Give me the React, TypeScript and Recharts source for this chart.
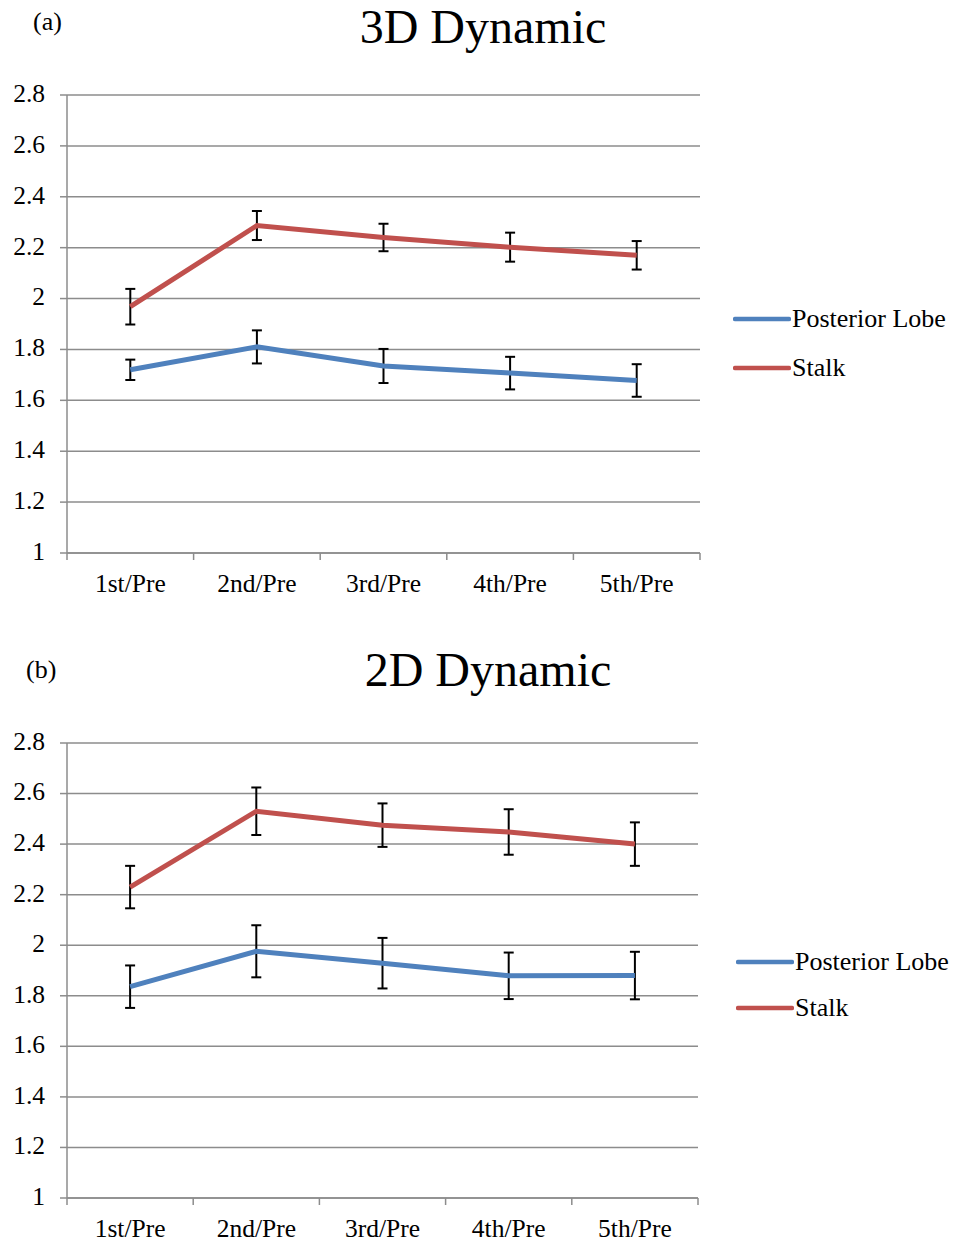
import { LineChart, Line, XAxis, YAxis, CartesianGrid, ErrorBar, Legend } from "recharts";

const FONT = '"Liberation Serif", "Times New Roman", serif';
const BLUE = "#4F81BD";
const RED = "#C0504D";
const GRID = "#8c8c8c";

const categories = ["1st/Pre", "2nd/Pre", "3rd/Pre", "4th/Pre", "5th/Pre"];
const yTicks = [1, 1.2, 1.4, 1.6, 1.8, 2, 2.2, 2.4, 2.6, 2.8];
const xTicks = [0, 0.5, 1, 1.5, 2, 2.5, 3, 3.5, 4, 4.5, 5];

// 3D dynamic
const posterior3d = [1.72, 1.81, 1.735, 1.707, 1.678];
const posterior3dErr = [0.04, 0.065, 0.067, 0.064, 0.064];
const stalk3d = [1.968, 2.287, 2.24, 2.202, 2.17];
const stalk3dErr = [0.07, 0.057, 0.054, 0.057, 0.056];

// 2D dynamic
const posterior2d = [1.836, 1.976, 1.929, 1.879, 1.88];
const posterior2dErr = [0.084, 0.103, 0.1, 0.092, 0.094];
const stalk2d = [2.23, 2.53, 2.475, 2.448, 2.4];
const stalk2dErr = [0.084, 0.094, 0.086, 0.09, 0.086];

function buildRows(post: number[], postErr: number[], stalk: number[], stalkErr: number[]) {
  return categories.map((name, i) => ({
    name,
    pos: i + 0.5,
    posterior: post[i],
    posteriorErr: postErr[i],
    stalk: stalk[i],
    stalkErr: stalkErr[i],
  }));
}

function CategoryTick(props: any) {
  const { x, y, payload } = props;
  const v = payload.value;
  if (Number.isInteger(v)) {
    return <line x1={x} x2={x} y1={y} y2={y + 7} stroke={GRID} strokeWidth={1.5} />;
  }
  return (
    <text x={x} y={y + 33} textAnchor="middle" dominantBaseline="middle" fontFamily={FONT} fontSize={25.5} fill="#000">
      {categories[Math.floor(v)]}
    </text>
  );
}

function ValueTick(props: any) {
  const { x, y, payload } = props;
  return (
    <text x={x} y={y + 1} textAnchor="end" dominantBaseline="middle" fontFamily={FONT} fontSize={25.5} fill="#000">
      {String(Number(Number(payload.value).toFixed(1)))}
    </text>
  );
}

function makeLegend(rowH: number) {
  return function SideLegend({ payload }: any) {
    return (
      <div style={{ fontFamily: FONT, fontSize: 26, color: "#000", whiteSpace: "nowrap" }}>
        {(payload || []).map((entry: any) => (
          <div key={entry.value} style={{ display: "flex", alignItems: "center", height: rowH }}>
            <svg width={58} height={8} style={{ marginRight: 1, flexShrink: 0 }}>
              <line x1={2} x2={56} y1={4} y2={4} stroke={entry.color} strokeWidth={4.5} strokeLinecap="round" />
            </svg>
            <span>{entry.value}</span>
          </div>
        ))}
      </div>
    );
  };
}

type PanelProps = {
  tag: string;
  title: string;
  rows: any[];
  height: number;
  top: number;
  plotH: number;
  right: number;
  tagPos: { left: number; top: number };
  titleTop: number;
  titleCenter: number;
  legendPos: { left: number; top: number };
  legendRowH: number;
};

function Panel({ tag, title, rows, height, top, plotH, right, tagPos, titleTop, titleCenter, legendPos, legendRowH }: PanelProps) {
  const axisH = 40;
  const SideLegend = makeLegend(legendRowH);
  return (
    <div style={{ position: "relative", width: 958, height }}>
      <div style={{ position: "absolute", left: tagPos.left, top: tagPos.top, fontFamily: FONT, fontSize: 26, lineHeight: "26px" }}>
        {tag}
      </div>
      <div
        style={{
          position: "absolute",
          left: titleCenter - 200,
          width: 400,
          textAlign: "center",
          top: titleTop,
          fontFamily: FONT,
          fontSize: 48,
          lineHeight: "48px",
        }}
      >
        {title}
      </div>
      <LineChart
        width={958}
        height={height}
        data={rows}
        margin={{ top, right, bottom: height - top - plotH - axisH, left: 7 }}
        style={{ fontFamily: FONT }}
      >
        <CartesianGrid horizontal vertical={false} stroke={GRID} strokeWidth={1.5} />
        <XAxis
          dataKey="pos"
          type="number"
          domain={[0, 5]}
          ticks={xTicks}
          interval={0}
          height={axisH}
          tickSize={0}
          tickMargin={0}
          tickLine={false}
          axisLine={{ stroke: GRID, strokeWidth: 1.5 }}
          tick={<CategoryTick />}
        />
        <YAxis
          domain={[1, 2.8]}
          ticks={yTicks}
          interval={0}
          width={60}
          tickSize={7}
          tickMargin={15}
          axisLine={{ stroke: GRID, strokeWidth: 1.5 }}
          tickLine={{ stroke: GRID, strokeWidth: 1.5 }}
          tick={<ValueTick />}
        />
        <Legend
          layout="horizontal"
          verticalAlign="middle"
          align="center"
          content={<SideLegend />}
          wrapperStyle={{ left: legendPos.left, top: legendPos.top, width: 210 }}
        />
        <Line name="Posterior Lobe" dataKey="posterior" stroke={BLUE} strokeWidth={5} dot={false} isAnimationActive={false}>
          <ErrorBar dataKey="posteriorErr" direction="y" width={5} stroke="#000" strokeWidth={2} />
        </Line>
        <Line name="Stalk" dataKey="stalk" stroke={RED} strokeWidth={5} dot={false} isAnimationActive={false}>
          <ErrorBar dataKey="stalkErr" direction="y" width={5} stroke="#000" strokeWidth={2} />
        </Line>
      </LineChart>
    </div>
  );
}

export default function App() {
  const rows3d = buildRows(posterior3d, posterior3dErr, stalk3d, stalk3dErr);
  const rows2d = buildRows(posterior2d, posterior2dErr, stalk2d, stalk2dErr);
  return (
    <div style={{ margin: "-8px 0 0 -8px", width: 958, background: "#fff" }}>
      <Panel
        tag="(a)"
        title="3D Dynamic"
        rows={rows3d}
        height={620}
        top={95}
        plotH={458}
        right={258}
        tagPos={{ left: 33, top: 9 }}
        titleTop={3}
        titleCenter={483}
        legendPos={{ left: 733, top: 294 }}
        legendRowH={49}
      />
      <Panel
        tag="(b)"
        title="2D Dynamic"
        rows={rows2d}
        height={627}
        top={123}
        plotH={455}
        right={260}
        tagPos={{ left: 26, top: 37 }}
        titleTop={26}
        titleCenter={488}
        legendPos={{ left: 736, top: 319 }}
        legendRowH={46}
      />
    </div>
  );
}
